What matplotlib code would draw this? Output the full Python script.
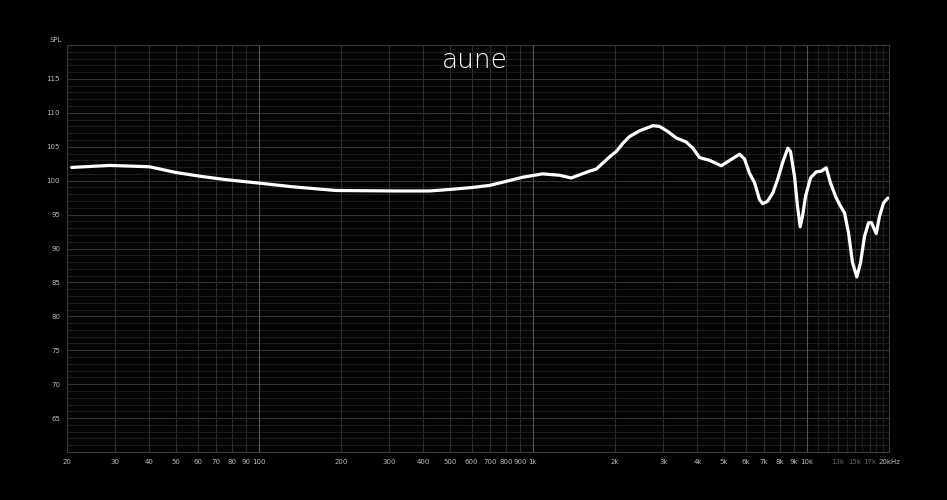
import numpy as np
import matplotlib.pyplot as plt

# frequency response (Hz, dB SPL)
freq = [20.8, 28.6, 40, 50, 62.5, 76, 100, 133, 192, 318, 421, 498, 604, 697, 802,
        919, 1088, 1255, 1384, 1614, 1708, 1806, 1910, 2021, 2136, 2259, 2458, 2748,
        2907, 3116, 3346, 3639, 3846, 4070, 4426, 4884, 5695, 5937, 6194, 6461, 6738,
        6927, 7205, 7535, 7839, 8172, 8547, 8741, 9042, 9272, 9484, 9670, 9917, 10342,
        10850, 11315, 11800, 12237, 12760, 13195, 13764, 14232, 14719, 15262, 15746,
        16285, 16842, 17272, 17966, 18470, 19098, 19807]
spl = [101.95, 102.25, 102.05, 101.2, 100.6, 100.15, 99.65, 99.1, 98.55, 98.48, 98.48,
       98.7, 99.0, 99.3, 99.9, 100.5, 101.0, 100.8, 100.4, 101.4, 101.7, 102.6, 103.5,
       104.3, 105.5, 106.5, 107.35, 108.1, 108.0, 107.25, 106.3, 105.7, 104.8, 103.4,
       103.0, 102.2, 103.9, 103.2, 101.1, 99.7, 97.2, 96.6, 96.95, 98.2, 100.15, 102.6,
       104.8, 104.3, 100.6, 96.2, 93.2, 94.75, 97.7, 100.4, 101.3, 101.4, 101.9, 99.65,
       97.7, 96.5, 95.25, 92.3, 87.9, 85.8, 87.9, 91.8, 93.8, 93.8, 92.2, 94.75, 96.7,
       97.45]

xticks = [20, 30, 40, 50, 60, 70, 80, 90, 100, 200, 300, 400, 500, 600, 700, 800, 900,
          1000, 2000, 3000, 4000, 5000, 6000, 7000, 8000, 9000, 10000, 13000, 15000,
          17000, 20000]
xlabels = ['20', '30', '40', '50', '60', '70', '80', '90', '100', '200', '300', '400',
           '500', '600', '700', '800', '900', '1k', '2k', '3k', '4k', '5k', '6k', '7k',
           '8k', '9k', '10k', '13k', '15k', '17k', '20kHz']
yticks = [65, 70, 75, 80, 85, 90, 95, 100, 105, 110, 115]

fig = plt.figure(figsize=(9.47, 5), dpi=100, facecolor='black')
ax = fig.add_axes([67/947, 48/500, 822/947, 407/500], facecolor='#030303')

ax.set_xscale('log')
ax.set_xlim(20, 20000)
ax.set_ylim(60, 120)

# grid
for y in range(61, 120):
    col = '#353535' if y % 5 == 0 else '#1c1c1c'
    ax.axhline(y, color=col, lw=0.8, zorder=1)
fine = [11000, 12000, 14000, 16000, 18000, 19000]
for f in xticks + fine:
    col = '#555555' if f in (100, 1000, 10000) else '#2a2a2a'
    if f in fine:
        col = '#1c1c1c'
    ax.axvline(f, color=col, lw=0.8, zorder=1)

ax.plot(freq, spl, color='white', lw=2.3, solid_capstyle='round',
        solid_joinstyle='round', zorder=5)

ax.set_xticks(xticks)
ax.set_xticklabels(xlabels)
ax.xaxis.set_minor_locator(plt.NullLocator())
ax.set_yticks(yticks)
ax.tick_params(length=0, labelsize=5, pad=5, colors='#bbbbbb')
for lab in ax.get_xticklabels():
    if lab.get_text() in ('13k', '15k', '17k'):
        lab.set_color('#666666')

for s in ax.spines.values():
    s.set_color('#3a3a3a')
    s.set_linewidth(0.8)

ax.text(-0.006, 1.005, 'SPL', transform=ax.transAxes, ha='right', va='bottom',
        fontsize=5, color='#bbbbbb')
fig.text(475/947, 1 - 61/500, 'aune', ha='center', va='center', fontsize=19,
         color='white', family='DejaVu Sans', fontweight='light')

fig.savefig('out.png', dpi=100, facecolor='black')
